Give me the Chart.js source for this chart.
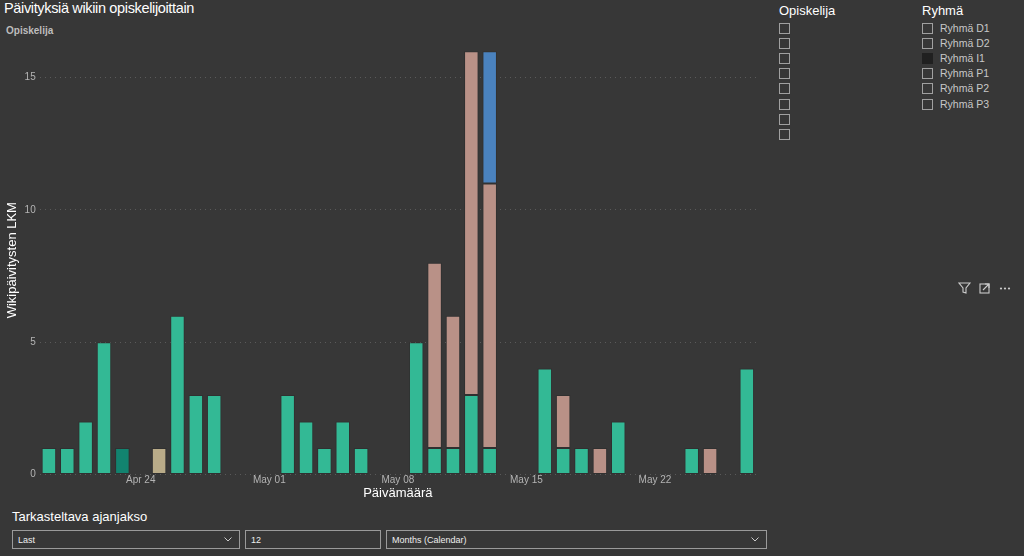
<!DOCTYPE html>
<html>
<head>
<meta charset="utf-8">
<script src="https://cdn.jsdelivr.net/npm/chart.js@4"></script>
<style>
  body { margin:0; background:#373737; width:1024px; height:556px; overflow:hidden;
         font-family:"Liberation Sans", Arial, sans-serif; color:#fff; position:relative; }
  .abs { position:absolute; }
  #title { left:4px; top:0px; font-size:14.5px; letter-spacing:-0.35px; }
  #legendTitle { left:6px; top:25px; font-size:10px; font-weight:bold; color:#bdbdbd; }
  #chartBox { left:0; top:36px; width:772px; height:465px; }
  .slicerHead { font-size:13px; top:3px; }
  .cb { width:9px; height:9px; border:1px solid #a0a0a0; }
  .item { font-size:10.5px; color:#c8c8c8; }
  .dd { border:1px solid #9a9a9a; height:19px; top:530px; font-size:9px; line-height:18px;
        padding-left:5px; box-sizing:border-box; color:#eee; }
  .chev { position:absolute; right:7px; top:6px; }
  .icons { top:281px; font-size:12px; color:#ccc; }
</style>
</head>
<body>
<div id="title" class="abs">Päivityksiä wikiin opiskelijoittain</div>
<div id="legendTitle" class="abs">Opiskelija</div>
<div id="chartBox" class="abs"><canvas id="chart"></canvas></div>

<div class="abs slicerHead" style="left:779px">Opiskelija</div>
<div class="abs slicerHead" style="left:922px">Ryhmä</div>
<div id="slicers"></div>

<div class="abs icons" style="left:958px">
  <svg width="60" height="14">
    <path d="M1 2 H12 L8 7 V12 L5 11 V7 Z" fill="none" stroke="#ccc" stroke-width="1.1"/>
    <rect x="22" y="3" width="9" height="9" fill="none" stroke="#ccc" stroke-width="1.1"/>
    <path d="M25 9 L31 3 M27 3 H31 V7" fill="none" stroke="#ccc" stroke-width="1.1"/>
    <circle cx="43" cy="7.5" r="1.1" fill="#ccc"/><circle cx="47" cy="7.5" r="1.1" fill="#ccc"/><circle cx="51" cy="7.5" r="1.1" fill="#ccc"/>
  </svg>
</div>

<div class="abs" style="left:12px;top:509px;font-size:13px">Tarkasteltava ajanjakso</div>
<div class="abs dd" style="left:12px;width:228px">Last<svg class="chev" width="8" height="5"><path d="M0.5 0.5 L4 4 L7.5 0.5" fill="none" stroke="#ccc"/></svg></div>
<div class="abs dd" style="left:245px;width:136px">12</div>
<div class="abs dd" style="left:386px;width:381px">Months (Calendar)<svg class="chev" width="8" height="5"><path d="M0.5 0.5 L4 4 L7.5 0.5" fill="none" stroke="#ccc"/></svg></div>

<script>
// one bar per day, Apr 19 .. May 27
const days = [
  'Apr 19','Apr 20','Apr 21','Apr 22','Apr 23','Apr 24','Apr 25','Apr 26','Apr 27','Apr 28',
  'Apr 29','Apr 30','May 01','May 02','May 03','May 04','May 05','May 06','May 07','May 08',
  'May 09','May 10','May 11','May 12','May 13','May 14','May 15','May 16','May 17','May 18',
  'May 19','May 20','May 21','May 22','May 23','May 24','May 25','May 26','May 27'
];
const shownTicks = ['Apr 24','May 01','May 08','May 15','May 22'];
const yTicks = [0, 5, 10, 15];

const studentA = [1,1,2,5,0,0,0,6,3,3, 0,0,0,3,2,1,2,1,0,0, 5,1,1,3,1,0,0,4,1,1, 0,2,0,0,0,1,0,0,4];
const studentB = [0,0,0,0,1,0,0,0,0,0, 0,0,0,0,0,0,0,0,0,0, 0,0,0,0,0,0,0,0,0,0, 0,0,0,0,0,0,0,0,0];
const studentC = [0,0,0,0,0,0,1,0,0,0, 0,0,0,0,0,0,0,0,0,0, 0,0,0,0,0,0,0,0,0,0, 0,0,0,0,0,0,0,0,0];
const studentD = [0,0,0,0,0,0,0,0,0,0, 0,0,0,0,0,0,0,0,0,0, 0,7,5,13,10,0,0,0,2,0, 1,0,0,0,0,0,1,0,0];
const studentE = [0,0,0,0,0,0,0,0,0,0, 0,0,0,0,0,0,0,0,0,0, 0,0,0,0,5,0,0,0,0,0, 0,0,0,0,0,0,0,0,0];

const groups = ['Ryhmä D1','Ryhmä D2','Ryhmä I1','Ryhmä P1','Ryhmä P2','Ryhmä P3'];
const studentBoxes = 8;

// slicer checkboxes
const sl = document.getElementById('slicers');
for (let i = 0; i < studentBoxes; i++) {
  const b = document.createElement('div');
  b.className = 'abs cb';
  b.style.left = '779px'; b.style.top = (23 + i * 15.1) + 'px';
  sl.appendChild(b);
}
groups.forEach((g, i) => {
  const b = document.createElement('div');
  b.className = 'abs cb';
  b.style.left = '922px'; b.style.top = (23 + i * 15.1) + 'px';
  if (g === 'Ryhmä I1') { b.style.background = '#202020'; b.style.borderColor = '#202020'; }
  sl.appendChild(b);
  const t = document.createElement('div');
  t.className = 'abs item';
  t.style.left = '940px'; t.style.top = (22 + i * 15.1) + 'px';
  t.textContent = g;
  sl.appendChild(t);
});

const ctx = document.getElementById('chart');
function ds(data, color) {
  return { data: data, backgroundColor: color, borderColor: 'rgba(40,40,40,0.45)', borderWidth: 1,
           categoryPercentage: 1, barPercentage: 0.79, borderSkipped: false };
}
const chart = new Chart(ctx, {
  type: 'bar',
  data: {
    labels: days,
    datasets: [
      ds(studentA, '#33b995'),
      ds(studentB, '#12836f'),
      ds(studentC, '#b9ab88'),
      ds(studentD, '#b99187'),
      ds(studentE, '#4a82be')
    ]
  },
  options: {
    maintainAspectRatio: false,
    responsive: true,
    animation: false,
    layout: { padding: { left: 5, right: 16, top: 5, bottom: 0 } },
    plugins: { legend: { display: false }, tooltip: { enabled: false } },
    scales: {
      x: {
        stacked: true,
        grid: { display: false, drawTicks: false, tickLength: 0 },
        border: { display: false },
        ticks: {
          autoSkip: false, maxRotation: 0, color: '#b4b4b4', padding: 1,
          font: { family: 'Liberation Sans', size: 10, lineHeight: 0.9 },
          callback: function(v, i) { return shownTicks.includes(days[i]) ? days[i] : ''; }
        },
        title: { display: true, text: 'Päivämäärä', color: '#ffffff', padding: { top: 0, bottom: 0 },
                 font: { family: 'Liberation Sans', size: 13 } }
      },
      y: {
        stacked: true,
        min: 0, max: 16.2,
        afterBuildTicks: function(scale) { scale.ticks = yTicks.map(v => ({ value: v })); },
        grid: { color: '#5a5a5a', lineWidth: 1, drawTicks: false },
        border: { display: false, dash: [1, 4] },
        ticks: { color: '#b4b4b4', padding: 4, font: { family: 'Liberation Sans', size: 10 } },
        title: { display: true, text: 'Wikipäivitysten LKM', color: '#ffffff', padding: { top: 0, bottom: 0 },
                 font: { family: 'Liberation Sans', size: 13 } }
      }
    }
  }
});
</script>
</body>
</html>
